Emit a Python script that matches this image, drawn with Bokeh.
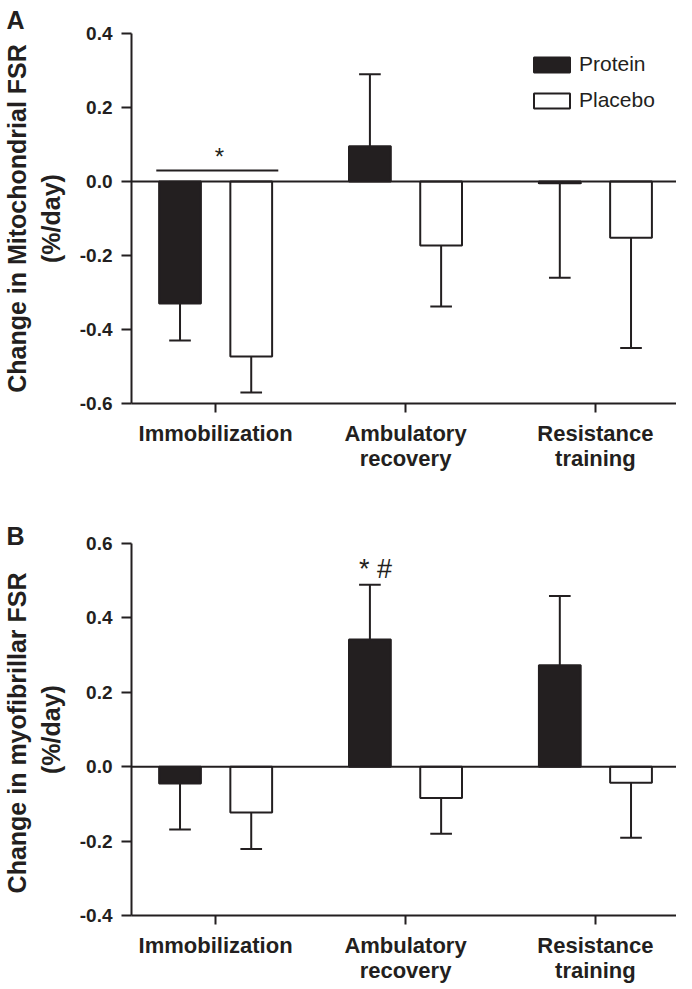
from bokeh.plotting import figure
from bokeh.models import (Range1d, FixedTicker, PrintfTickFormatter, Span, Label,
                          Legend, LegendItem)
from bokeh.layouts import column
from bokeh.embed import file_html
from bokeh.resources import INLINE

# ---------------- data ----------------
categories = ["Immobilization", "Ambulatory\nrecovery", "Resistance\ntraining"]
groups = ["Protein", "Placebo"]

# Panel A: change in mitochondrial FSR (%/day); mean and end of error bar
mito_protein = [-0.33, 0.095, -0.005]
mito_protein_err = [-0.43, 0.29, -0.26]
mito_placebo = [-0.473, -0.173, -0.152]
mito_placebo_err = [-0.57, -0.338, -0.45]
mito_ticks = [-0.6, -0.4, -0.2, 0.0, 0.2, 0.4]

# Panel B: change in myofibrillar FSR (%/day)
myo_protein = [-0.045, 0.342, 0.273]
myo_protein_err = [-0.169, 0.489, 0.459]
myo_placebo = [-0.123, -0.084, -0.043]
myo_placebo_err = [-0.221, -0.18, -0.191]
myo_ticks = [-0.4, -0.2, 0.0, 0.2, 0.4, 0.6]

# significance marks
mito_sig_y = 0.03
myo_sig_y = 0.532

# ---------------- style ----------------
INK = "#231f20"
FONT = "Liberation Sans"
OFFSET = 0.1875
BAR_W = 0.22
CAP = 0.057
W = 676


def make_panel(prot, prot_err, plac, plac_err, yr, yticks, ytitle, height, top_border,
               bottom_border, letter, letter_standoff):
    xs = list(range(1, len(categories) + 1))
    p = figure(width=W, height=height, output_backend="svg", toolbar_location=None,
               x_range=Range1d(0.557, 3.427), y_range=Range1d(yr[0], yr[1]),
               min_border_left=125, min_border_right=0, min_border_top=top_border,
               min_border_bottom=bottom_border, title=letter)
    p.outline_line_color = None
    p.xgrid.visible = False
    p.ygrid.visible = False
    p.background_fill_color = "white"

    p.title.align = "left"
    p.title.offset = -125
    p.title.standoff = letter_standoff
    p.title.text_font = FONT
    p.title.text_font_style = "bold"
    p.title.text_font_size = "25px"
    p.title.text_color = INK

    renderers = {}
    for vals, errs, off, fill, lab in [(prot, prot_err, -OFFSET, INK, "Protein"),
                                      (plac, plac_err, OFFSET, "white", "Placebo")]:
        x = [c + off for c in xs]
        p.segment(x0=x, y0=vals, x1=x, y1=errs, line_color=INK, line_width=2)
        p.segment(x0=[v - CAP for v in x], y0=errs, x1=[v + CAP for v in x], y1=errs,
                  line_color=INK, line_width=2)
        renderers[lab] = p.vbar(x=x, top=vals, bottom=0, width=BAR_W, fill_color=fill,
                                line_color=INK, line_width=2)

    p.add_layout(Span(location=0, dimension="width", line_color=INK, line_width=2))

    # y axis
    ya = p.yaxis[0]
    ya.ticker = FixedTicker(ticks=yticks)
    ya.formatter = PrintfTickFormatter(format="%.1f")
    ya.major_tick_out = 10
    ya.major_tick_in = 0
    ya.minor_tick_line_color = None
    ya.axis_line_width = 2
    ya.axis_line_color = INK
    ya.major_tick_line_width = 2
    ya.major_tick_line_color = INK
    ya.major_label_text_font = FONT
    ya.major_label_text_font_style = "bold"
    ya.major_label_text_font_size = "19px"
    ya.major_label_text_color = INK
    ya.major_label_standoff = 9
    ya.axis_label = ytitle
    ya.axis_label_text_font = FONT
    ya.axis_label_text_font_style = "bold"
    ya.axis_label_text_font_size = "25px"
    ya.axis_label_text_color = INK
    ya.axis_label_standoff = 12

    # x axis
    xa = p.xaxis[0]
    xa.ticker = FixedTicker(ticks=xs)
    xa.major_label_overrides = {i: c for i, c in zip(xs, categories)}
    xa.major_tick_out = 9
    xa.major_tick_in = 0
    xa.minor_tick_line_color = None
    xa.axis_line_width = 2
    xa.axis_line_color = INK
    xa.major_tick_line_width = 2
    xa.major_tick_line_color = INK
    xa.major_label_text_font = FONT
    xa.major_label_text_font_style = "bold"
    xa.major_label_text_font_size = "22px"
    xa.major_label_text_line_height = 1.0
    xa.major_label_text_color = INK
    xa.major_label_standoff = 8
    return p, renderers


p1, r1 = make_panel(mito_protein, mito_protein_err, mito_placebo, mito_placebo_err,
                    (-0.6, 0.4), mito_ticks, "Change in Mitochondrial FSR\n(%/day)",
                    477, 33, 74, "A", 0)
# significance bar over immobilization
p1.segment(x0=[1 - 0.3125], x1=[1 + 0.33], y0=[mito_sig_y], y1=[mito_sig_y],
           line_color=INK, line_width=2)
p1.add_layout(Label(x=1.02, y=mito_sig_y + 0.037, text="*", text_font=FONT,
                    text_font_size="24px", text_color=INK, text_align="center",
                    text_baseline="alphabetic"))
legend = Legend(items=[LegendItem(label=g, renderers=[r1[g]]) for g in groups],
                location=(398, 291), glyph_width=45, glyph_height=19, label_height=19,
                spacing=12, padding=0, margin=0, border_line_color=None,
                background_fill_alpha=0, label_text_font=FONT, label_text_font_size="21px",
                label_text_color=INK, label_standoff=5)
p1.add_layout(legend)

p2, r2 = make_panel(myo_protein, myo_protein_err, myo_placebo, myo_placebo_err,
                    (-0.4, 0.6), myo_ticks, "Change in myofibrillar  FSR\n(%/day)",
                    510, 66, 72, "B", -12)
p2.add_layout(Label(x=2 - OFFSET + 0.03, y=myo_sig_y, text="* #", text_font=FONT,
                    text_font_size="27px", text_color=INK, text_align="center",
                    text_baseline="alphabetic"))

layout = column(p1, p2, spacing=0)
open("out.html", "w").write(file_html(layout, INLINE))
